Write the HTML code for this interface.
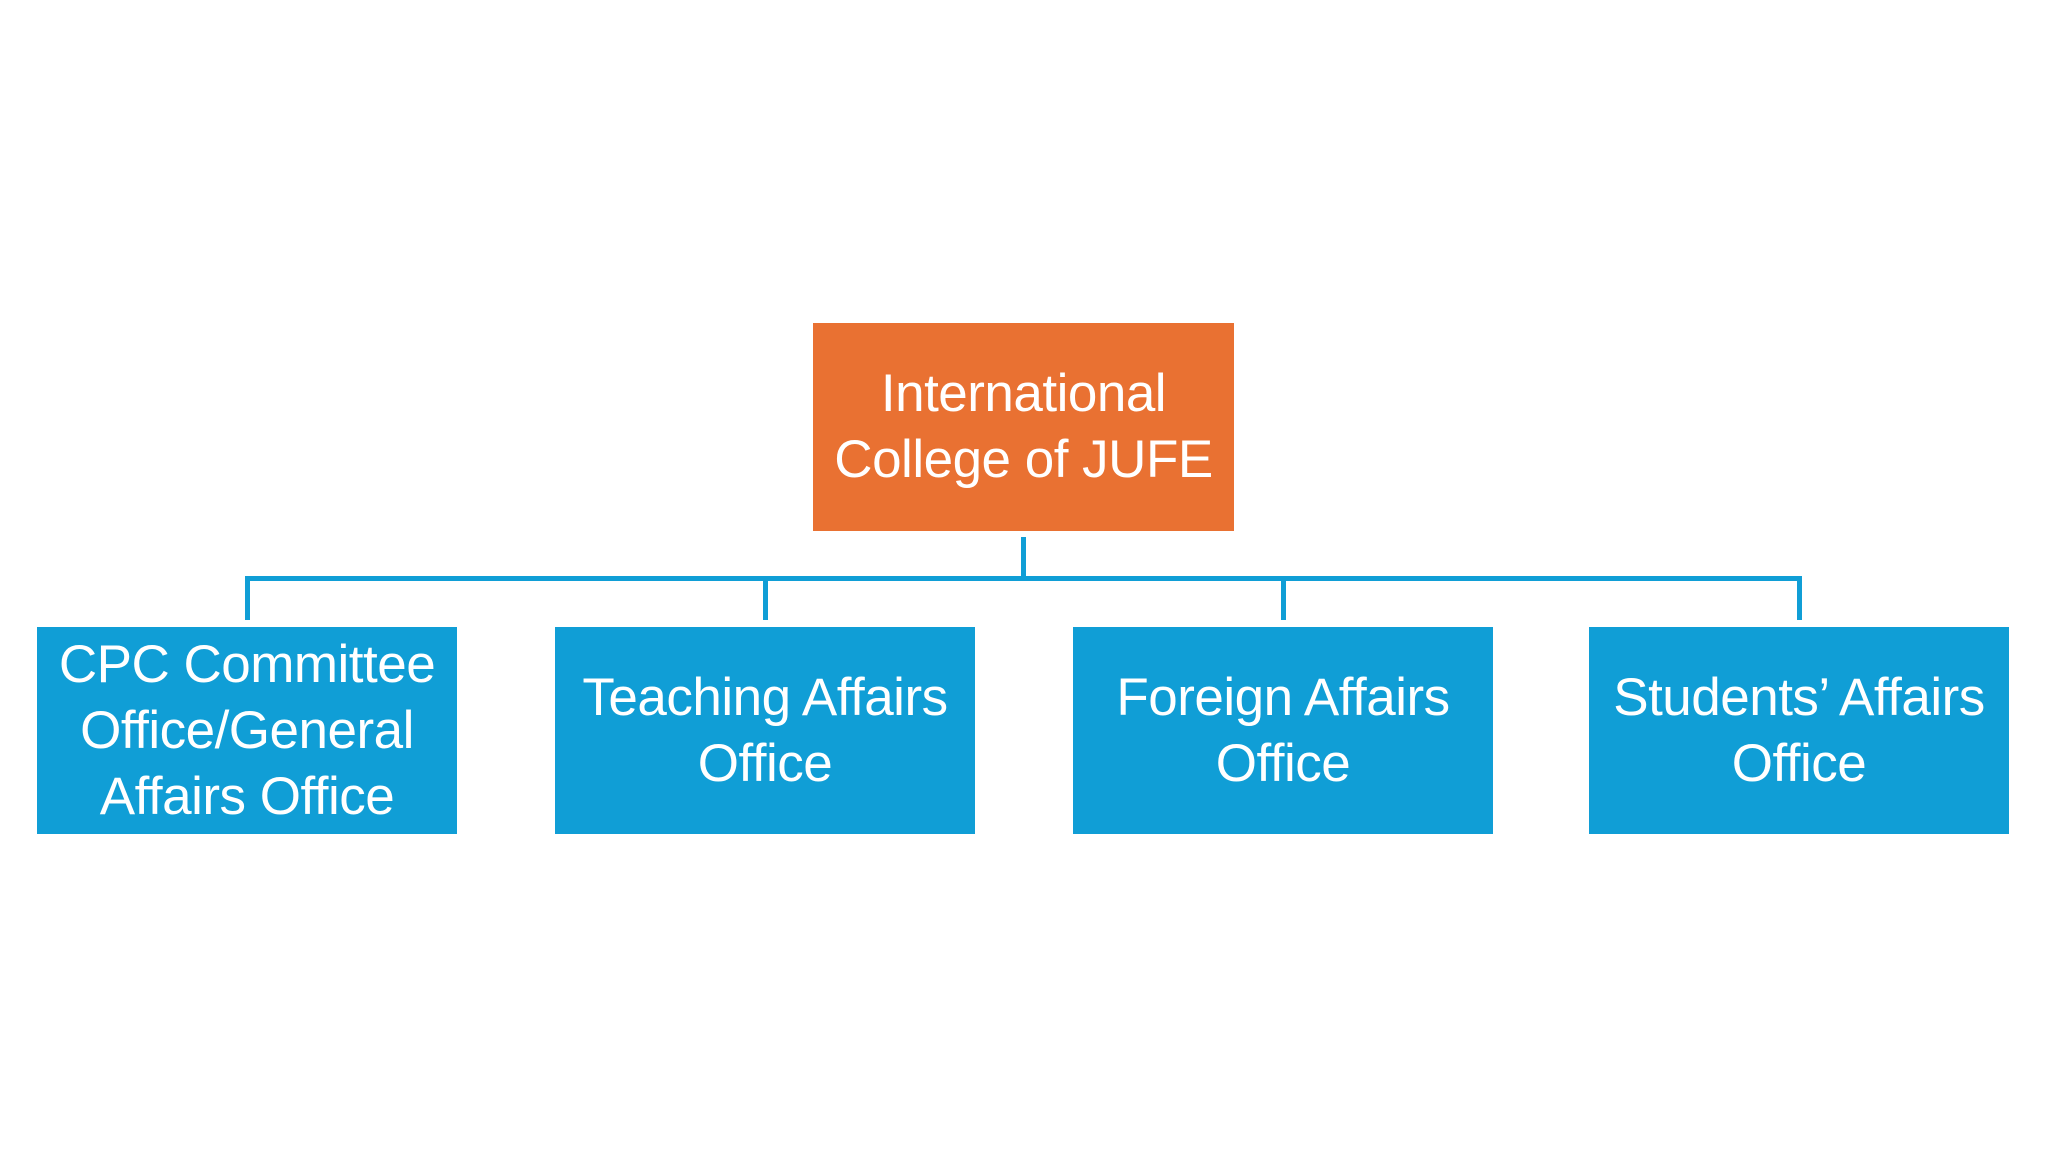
<!DOCTYPE html>
<html><head><style>
html,body{margin:0;padding:0;background:#fff;}
body{width:2062px;height:1155px;position:relative;overflow:hidden;font-family:"Liberation Sans",sans-serif;}
.b{position:absolute;display:flex;align-items:center;justify-content:center;text-align:center;color:#fff;font-size:53px;line-height:66px;white-space:nowrap;letter-spacing:-0.5px;}
.o{background:#e97132;left:813px;top:323px;width:421px;height:208px;}
.c{background:#109ed6;top:627px;width:420px;height:207px;}
.l{position:absolute;background:#109ed6;}
</style></head><body>
<div class="b o"><div>International<br>College of JUFE</div></div>
<div class="l" style="left:1021px;top:537px;width:5px;height:44px"></div>
<div class="l" style="left:245px;top:576px;width:1557px;height:5px"></div>
<div class="l" style="left:245px;top:576px;width:5px;height:44px"></div>
<div class="l" style="left:763px;top:576px;width:5px;height:44px"></div>
<div class="l" style="left:1281px;top:576px;width:5px;height:44px"></div>
<div class="l" style="left:1797px;top:576px;width:5px;height:44px"></div>
<div class="b c" style="left:37px"><div>CPC Committee<br>Office/General<br>Affairs Office</div></div>
<div class="b c" style="left:555px"><div>Teaching Affairs<br>Office</div></div>
<div class="b c" style="left:1073px"><div>Foreign Affairs<br>Office</div></div>
<div class="b c" style="left:1589px"><div>Students’ Affairs<br>Office</div></div>
</body></html>
